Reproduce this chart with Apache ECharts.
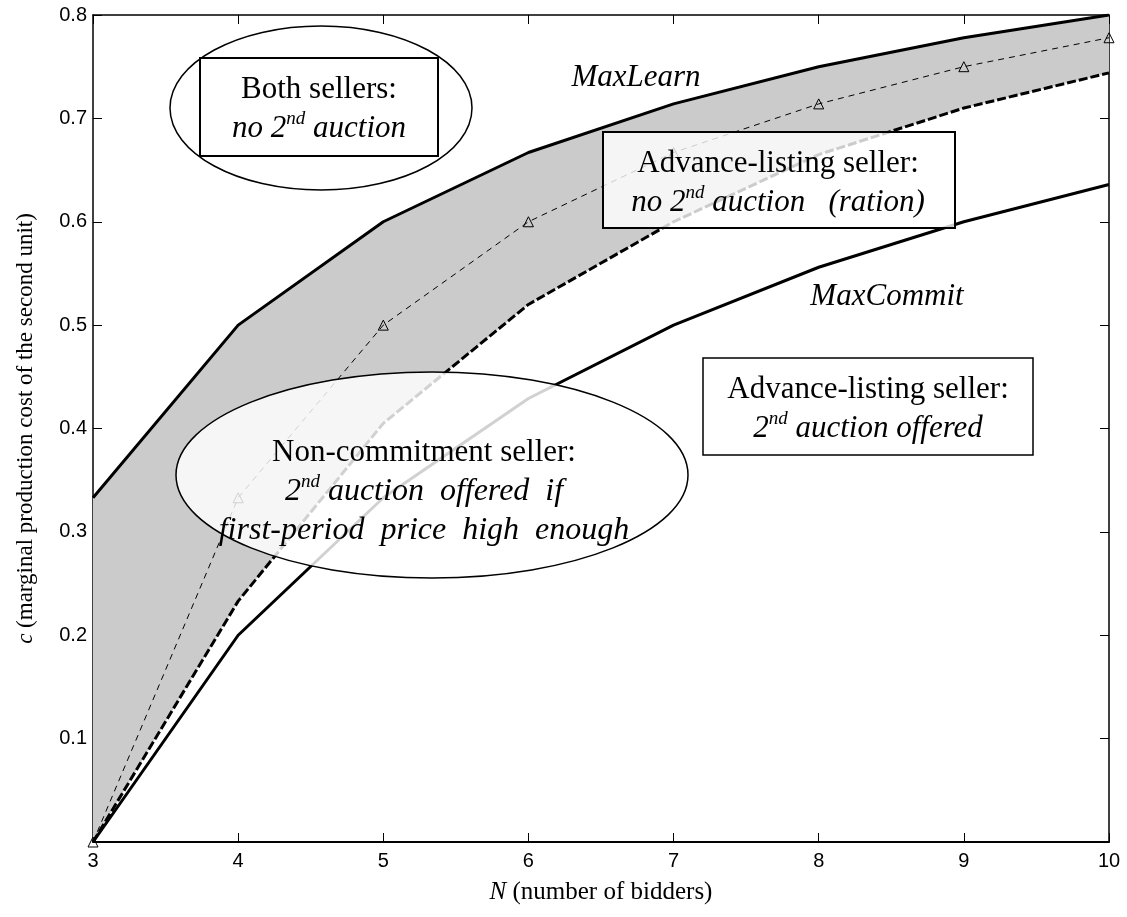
<!DOCTYPE html>
<html>
<head>
<meta charset="utf-8">
<script src="https://cdn.jsdelivr.net/npm/echarts@6/dist/echarts.min.js"></script>
<style>html,body{margin:0;padding:0;background:#fff;}#c{width:1127px;height:917px;}</style>
</head>
<body>
<div id="c"></div>
<script>
// Number of bidders
const bidders = [3, 4, 5, 6, 7, 8, 9, 10];
// MaxLearn (upper solid line)
const maxLearn = [0.333, 0.5, 0.6, 0.667, 0.714, 0.75, 0.778, 0.8];
// MaxCommit (lower solid line)
const maxCommit = [0, 0.2, 0.333, 0.429, 0.5, 0.556, 0.6, 0.636];
// Lower edge of the shaded (ration) region, thick dashed
const rationBound = [0, 0.233, 0.405, 0.52, 0.6, 0.665, 0.71, 0.744];
// Non-commitment threshold, thin dashed with triangles
const nonCommit = [0, 0.333, 0.5, 0.6, 0.667, 0.714, 0.75, 0.778];

const pairs = arr => bidders.map((n, i) => [n, arr[i]]);

const SERIF = '"Liberation Serif", "Times New Roman", serif';
const SANS = '"Liberation Sans", Arial, sans-serif';

const chart = echarts.init(document.getElementById('c'), null, {renderer: 'canvas'});

const axisCommon = {
  type: 'value',
  splitLine: {show: false},
  axisLine: {show: true, onZero: false, lineStyle: {color: '#000', width: 1.5}},
  axisTick: {show: true, inside: true, length: 9, lineStyle: {color: '#000', width: 1}},
};

const FS = 31;
const richSup = {
  i: {fontFamily: SERIF, fontStyle: 'italic', fontSize: FS, lineHeight: 39},
  iw: {fontFamily: SERIF, fontStyle: 'italic', fontSize: 32, lineHeight: 39},
  n: {fontFamily: SERIF, fontSize: FS, lineHeight: 39},
  sup: {fontFamily: SERIF, fontStyle: 'italic', fontSize: 19, lineHeight: 21, verticalAlign: 'top'}
};

function label(x, y, text) {
  return {
    type: 'text', x: x, y: y, z: 20,
    style: {
      text: text, fill: '#000', align: 'center', verticalAlign: 'middle',
      font: FS + 'px ' + SERIF, lineHeight: 39, rich: richSup
    }
  };
}

const option = {
  backgroundColor: '#fff',
  animation: false,
  grid: {left: 93, right: 18, top: 15, bottom: 75},
  xAxis: [
    Object.assign({}, axisCommon, {
      min: 3, max: 10, interval: 1, position: 'bottom',
      axisLine: {show: true, onZero: false, lineStyle: {color: '#000', width: 2}},
      axisLabel: {color: '#000', fontFamily: SANS, fontSize: 20, margin: 9},
      name: '{i|N} (number of bidders)',
      nameLocation: 'middle', nameGap: 38,
      nameTextStyle: {
        fontFamily: SERIF, fontSize: 25, color: '#000',
        rich: {i: {fontFamily: SERIF, fontStyle: 'italic', fontSize: 25, color: '#000'}}
      }
    }),
    Object.assign({}, axisCommon, {
      min: 3, max: 10, interval: 1, position: 'top',
      axisLabel: {show: false}
    })
  ],
  yAxis: [
    Object.assign({}, axisCommon, {
      min: 0, max: 0.8, interval: 0.1, position: 'left',
      axisLabel: {
        color: '#000', fontFamily: SANS, fontSize: 20, margin: 6,
        formatter: v => (Math.abs(v) < 1e-9 ? '' : v.toFixed(1))
      },
      name: '{i|c} (marginal production cost of the second unit)',
      nameLocation: 'middle', nameGap: 56, nameRotate: 90,
      nameTextStyle: {
        fontFamily: SERIF, fontSize: 23, color: '#000',
        rich: {i: {fontFamily: SERIF, fontStyle: 'italic', fontSize: 23, color: '#000'}}
      }
    }),
    Object.assign({}, axisCommon, {
      min: 0, max: 0.8, interval: 0.1, position: 'right',
      axisLabel: {show: false}
    })
  ],
  series: [
    {
      name: 'band', type: 'custom', silent: true, z: 1,
      data: [[bidders[0], rationBound[0]]],
      renderItem: function (params, api) {
        const pts = [];
        for (let i = 0; i < bidders.length; i++) pts.push(api.coord([bidders[i], maxLearn[i]]));
        for (let i = bidders.length - 1; i >= 0; i--) pts.push(api.coord([bidders[i], rationBound[i]]));
        return {type: 'polygon', shape: {points: pts}, style: {fill: '#cbcbcb', stroke: null}};
      }
    },
    {
      name: 'MaxLearn', type: 'line', data: pairs(maxLearn), symbol: 'none',
      lineStyle: {color: '#000', width: 3}, z: 3
    },
    {
      name: 'MaxCommit', type: 'line', data: pairs(maxCommit), symbol: 'none',
      lineStyle: {color: '#000', width: 3}, z: 3
    },
    {
      name: 'Ration bound', type: 'line', data: pairs(rationBound), symbol: 'none',
      lineStyle: {color: '#000', width: 3, type: [9, 3]}, z: 3
    },
    {
      name: 'Non-commitment', type: 'line', data: pairs(nonCommit),
      symbol: 'triangle', symbolSize: 10,
      itemStyle: {color: 'rgba(0,0,0,0)', borderColor: '#000', borderWidth: 1},
      lineStyle: {color: '#000', width: 1, type: [6, 5]}, z: 4
    }
  ],
  graphic: [
    {type: 'ellipse', z: 10, shape: {cx: 321, cy: 108, rx: 151, ry: 82},
     style: {fill: '#fff', stroke: '#000', lineWidth: 1.5}},
    {type: 'rect', z: 11, shape: {x: 200, y: 58, width: 238, height: 98},
     style: {fill: '#fff', stroke: '#000', lineWidth: 2}},
    label(319, 109, '{n|Both sellers:}\n{i|no 2}{sup|nd}{i| auction}'),

    {type: 'rect', z: 11, shape: {x: 603, y: 132, width: 352, height: 96},
     style: {fill: 'rgba(255,255,255,0.8)', stroke: '#000', lineWidth: 2}},
    label(778, 183, '{n|Advance-listing seller:}\n{i|no 2}{sup|nd}{i| auction   (ration)}'),

    {type: 'rect', z: 11, shape: {x: 703, y: 358, width: 330, height: 97},
     style: {fill: '#fff', stroke: '#000', lineWidth: 1.5}},
    label(868, 409, '{n|Advance-listing seller:}\n{i|2}{sup|nd}{i| auction offered}'),

    {type: 'ellipse', z: 10, shape: {cx: 432, cy: 475, rx: 256, ry: 103},
     style: {fill: 'rgba(255,255,255,0.82)', stroke: '#000', lineWidth: 1.5}},
    label(424, 492, '{n|Non-commitment seller:}\n{iw|2}{sup|nd}{iw| auction  offered  if}\n{iw|first-period  price  high  enough}'),

    label(636, 78, '{i|MaxLearn}'),
    label(887, 297, '{i|MaxCommit}')
  ]
};

chart.setOption(option);
</script>
</body>
</html>
